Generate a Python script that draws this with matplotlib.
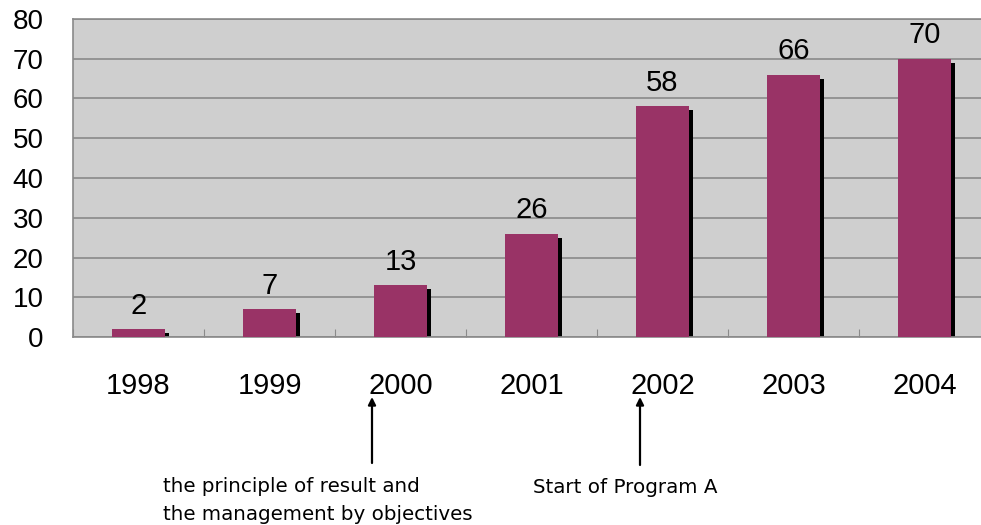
import matplotlib
matplotlib.use('Agg')
import matplotlib.pyplot as plt
import numpy as np

# Dane
years = ['1998', '1999', '2000', '2001', '2002', '2003', '2004']
values = [2, 7, 13, 26, 58, 66, 70]

bar_color = '#993366'
bg_color = '#cfcfcf'
grid_color = '#8a8a8a'

fig = plt.figure(figsize=(9.81, 5.25), dpi=100)
# axes sięga poza prawą krawędź jak w oryginale
ax = fig.add_axes([73 / 981, 188 / 525, 917 / 981, 318 / 525])
ax.set_facecolor(bg_color)

x = np.arange(len(years))
w = 0.40
# cień
ax.bar(x + 0.036, [v - 1.0 for v in values], width=w, color='black', zorder=2)
ax.bar(x, values, width=w, color=bar_color, zorder=3)

for xi, v in zip(x, values):
    ax.annotate(str(v), (xi, v), xytext=(0, 11), textcoords='offset points',
                ha='center', va='baseline', fontsize=21, family='Liberation Sans')

ax.set_xlim(-0.5, 6.5)
ax.set_ylim(0, 80)
ax.set_yticks(range(0, 81, 10))
ax.yaxis.grid(True, color=grid_color, linewidth=1.2, zorder=1)
ax.set_axisbelow(True)

# znaczniki między kategoriami, etykiety na środku
ax.set_xticks(np.arange(-0.5, 7, 1))
ax.set_xticklabels([])
ax.tick_params(axis='x', direction='in', length=6, color=grid_color)
ax.set_xticks(x, minor=True)
ax.set_xticklabels(years, minor=True, fontsize=21, family='Liberation Sans')
ax.tick_params(axis='x', which='minor', length=0, pad=25)
ax.tick_params(axis='y', length=0, pad=21, labelsize=20)
for lbl in ax.get_yticklabels():
    lbl.set_family('Liberation Sans')

for s in ['left', 'top', 'bottom']:
    ax.spines[s].set_color(grid_color)
    ax.spines[s].set_linewidth(1.2)
ax.spines['right'].set_visible(False)

# Strzałki i opisy (współrzędne w pikselach figury)
H = 525
arrow = dict(arrowstyle='-|>', color='black', lw=1.6, mutation_scale=11, shrinkA=0, shrinkB=0)
ax.annotate('', xy=(372, H - 397), xytext=(372, H - 463), xycoords='figure pixels',
            textcoords='figure pixels', arrowprops=arrow, annotation_clip=False)
ax.annotate('', xy=(640, H - 397), xytext=(640, H - 465), xycoords='figure pixels',
            textcoords='figure pixels', arrowprops=arrow, annotation_clip=False)

fig.text(163 / 981, 1 - 492 / H, 'the principle of result and', fontsize=14.3,
         family='DejaVu Sans', va='baseline', ha='left')
fig.text(163 / 981, 1 - 520 / H, 'the management by objectives', fontsize=14.3,
         family='DejaVu Sans', va='baseline', ha='left')
fig.text(533 / 981, 1 - 493 / H, 'Start of Program A', fontsize=14.3,
         family='DejaVu Sans', va='baseline', ha='left')

plt.savefig('out.png', dpi=100)
plt.close()
